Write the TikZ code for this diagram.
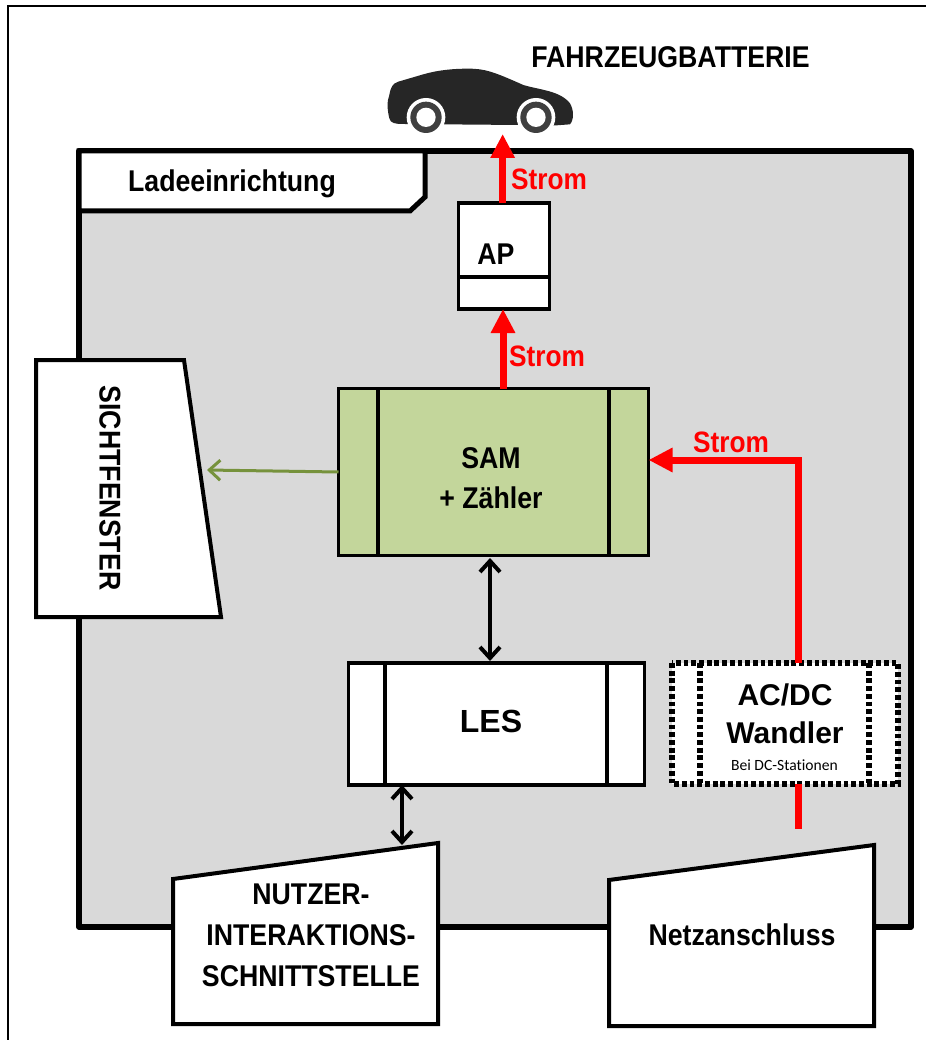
\documentclass[tikz,border=0pt]{standalone}
\usepackage{fontspec}
\setmainfont{Liberation Sans}
\newfontfamily\narrowf[FakeStretch=0.89]{Liberation Sans}
\newfontfamily\calf{Carlito}
\usetikzlibrary{arrows.meta}
\definecolor{boxgrey}{HTML}{D9D9D9}
\definecolor{samgreen}{HTML}{C3D69B}
\definecolor{olivearrow}{HTML}{76923C}
\definecolor{cardark}{HTML}{262626}
\definecolor{tyre}{HTML}{3F3F3F}
\tikzset{
  every node/.style={inner sep=0pt,outer sep=0pt},
  lbl/.style={font=\narrowf\bfseries\fontsize{30}{34}\selectfont,align=center,text=black},
  strom/.style={font=\narrowf\bfseries\fontsize{29.5}{34}\selectfont,text=red},
  power/.style={draw=red,line width=7pt,-{Triangle[length=24pt,width=23pt]}},
  powerline/.style={draw=red,line width=7pt},
  dataarrow/.style={draw=black,line width=4pt,{Straight Barb[length=11pt,width=20pt,line width=4pt]}-{Straight Barb[length=11pt,width=20pt,line width=4pt]}},
  dots/.style={draw=black,line width=5.5pt,dash pattern=on 4.8pt off 2.9pt},
  poly/.style={draw=black,line width=4pt,fill=white,line join=miter}
}
\begin{document}
\begin{tikzpicture}[x=1pt,y=-1pt]
\useasboundingbox (0,0) rectangle (926,1040);
% outer frame
\coordinate (frameBL) at (8,1040);
\coordinate (frameTL) at (8,6);
\coordinate (frameTR) at (926,6);
\draw[line width=2pt,black] (frameBL) -- (frameTL) -- (frameTR);
% device
\draw[line width=5.5pt,fill=boxgrey,line join=round] (79,151) rectangle (911,927);
\draw[line width=5pt,fill=white,line join=miter] (79,151) -- (425,151) -- (425,197) -- (410,211) -- (79,211) -- cycle;
\node[lbl,anchor=center] (lade) at (232,184) {Ladeeinrichtung};
\node[lbl,anchor=center] (title) at (670.5,57) {FAHRZEUGBATTERIE};
% car
\begin{scope}[shift={(370,30)},x=0.3333pt,y=-0.3333pt]
\fill[cardark] (100,282) .. controls (75,282) and (62,280) .. (58,265) .. controls (52,240) and (50,215) .. (58,195) .. controls (62,172) and (68,160) .. (85,155)
  -- (160,133) .. controls (205,120) and (250,116) .. (295,116) .. controls (345,116) and (370,125) .. (460,165)
  .. controls (510,180) and (570,182) .. (600,220) .. controls (612,240) and (612,270) .. (600,283)
  -- (560,286) -- cycle;
\foreach \wx in {168,498}{
  \fill[white] (\wx,262) circle (58);
  \fill[tyre] (\wx,262) circle (47);
  \fill[white] (\wx,262) circle (29);
}
\coordinate (car) at (398,312);
\end{scope}
% Sichtfenster
\draw[poly] (36,360) -- (184,360) -- (221,617) -- (36,617) -- cycle;
\coordinate (sicht) at (207,470);
\node[lbl,rotate=-90] (sichttext) at (110,488) {SICHTFENSTER};
% Nutzer
\draw[poly] (173,879) -- (438,843) -- (438,1024) -- (173,1024) -- cycle;
\coordinate (nutzertop) at (402,845);
\node[lbl,align=center,font=\narrowf\bfseries\fontsize{30}{41}\selectfont] (nutzer) at (311,935) {NUTZER-\\INTERAKTIONS-\\SCHNITTSTELLE};
% Netz
\draw[poly] (609,880) -- (874,845) -- (874,1026) -- (609,1026) -- cycle;
\node[lbl] (netz) at (742,935) {Netzanschluss};
% AP
\node[draw=black,line width=3.5pt,fill=white,minimum width=91pt,minimum height=106pt] (ap) at (504,256) {};
\draw[line width=3.5pt] (459,277) -- (550,277);
\node[lbl] (aptext) at (496,254) {AP};
% SAM
\node[draw=black,line width=3.5pt,fill=samgreen,minimum width=310pt,minimum height=167pt] (sam) at (493.5,472) {};
\draw[line width=3.5pt] (378,389) -- (378,556) (609,389) -- (609,556);
\node[lbl] (samtext) at (491,478.5) {SAM\\[6pt]+ Zähler};
% LES
\node[draw=black,line width=3.5pt,fill=white,minimum width=296pt,minimum height=122pt] (les) at (496.5,724) {};
\draw[line width=3.5pt] (385,663) -- (385,785) (607,663) -- (607,785);
\node[font=\bfseries\fontsize{32}{38}\selectfont] (lestext) at (491,721) {LES};
% AC/DC
\node[fill=white,minimum width=226pt,minimum height=121pt] (acdc) at (785,723.5) {};
\draw[dots] (672,663) rectangle (898,784);
\draw[dots] (700,663) -- (700,784) (869,663) -- (869,784);
\node[font=\bfseries\fontsize{30}{38}\selectfont,align=center] (acdctext) at (785,714) {AC/DC\\Wandler};
\node[font=\calf\fontsize{15.6}{18}\selectfont] (acdcsub) at (784.5,765) {Bei DC-Stat\kern0pt ionen};
% connectors
\coordinate (apin) at (503,300);
\draw[power] (ap.north -| car) -- (car);
\draw[power] (sam.north -| apin) -- (ap.south -| apin);
\coordinate (turn) at (798,460);
\draw[power,line join=miter] (acdc.north -| turn) -- (turn) -- (sam.east |- turn);
\coordinate (stub) at (798,829);
\draw[powerline] (acdc.south -| stub) -- (stub);
\draw[olivearrow,line width=3pt,-{Straight Barb[length=11pt,width=20pt,line width=3pt]}] (sam.west |- 0,472) -- (sicht);
\draw[dataarrow] (490,558) -- (490,661);
\draw[dataarrow] (les.south -| nutzertop) -- (nutzertop);
\node[strom] (s1) at (549,179) {Strom};
\node[strom] (s2) at (547,356) {Strom};
\node[strom] (s3) at (731,442) {Strom};
\end{tikzpicture}
\end{document}
